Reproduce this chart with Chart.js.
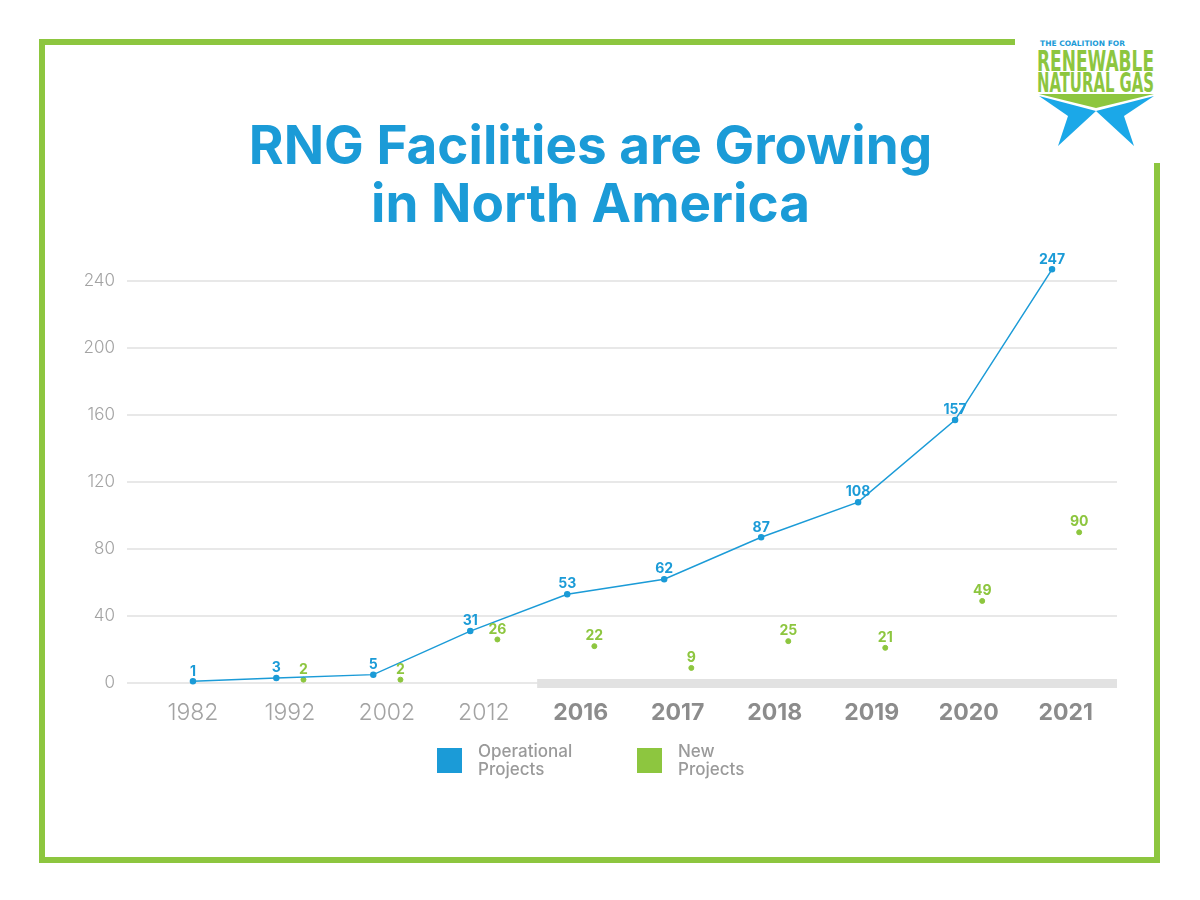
<!DOCTYPE html>
<html>
<head>
<meta charset="utf-8" />
<title>RNG Facilities are Growing in North America</title>
<script src="https://cdn.jsdelivr.net/npm/chart.js"></script>
<style>
  body { margin: 0; background: #fff; }
  #page { position: relative; width: 1200px; height: 900px; overflow: hidden; font-family: Inter, "Open Sans", sans-serif; }
  #frame { position: absolute; left: 39px; top: 39px; width: 1109px; height: 812px; border: 6px solid #8dc63f; }
  #myChart { position: absolute; left: 0; top: 0; }
  #logo { position: absolute; left: 1015px; top: 30px; }
  #legend { position: absolute; left: 437px; top: 742px; display: flex; }
  .item { display: flex; align-items: center; width: 200px; }
  .box { width: 25px; height: 25px; margin-right: 16px; }
  .txt { font-size: 17px; line-height: 18px; color: #9a9a9a; font-weight: 500; }
</style>
</head>
<body>
<div id="page">
  <div id="frame"></div>
  <canvas id="myChart" width="1200" height="900"></canvas>
  <svg id="logo" width="150" height="133" viewBox="1015 30 150 133">
    <rect x="1015" y="30" width="150" height="133" fill="#fff"/>
    <text x="1040" y="46" font-family="DejaVu Sans" font-size="7.5" font-weight="bold" fill="#1b9bd7" textLength="85" lengthAdjust="spacing">THE COALITION FOR</text>
    <text x="1037" y="71" font-family="'Liberation Sans Narrow', 'DejaVu Sans Condensed'" font-weight="bold" font-size="29" fill="#8dc63f" textLength="117" lengthAdjust="spacingAndGlyphs">RENEWABLE</text>
    <text x="1037" y="92" font-family="'Liberation Sans Narrow', 'DejaVu Sans Condensed'" font-weight="bold" font-size="26" fill="#8dc63f" textLength="117" lengthAdjust="spacingAndGlyphs">NATURAL GAS</text>
    <polygon points="1039,94 1154,94 1096,108" fill="#8dc63f"/>
    <polygon points="1039,96 1096,111 1058,146 1068,116" fill="#1ba8e8"/>
    <polygon points="1154,96 1096,111 1134,146 1124,116" fill="#1ba8e8"/>
  </svg>
  <div id="legend"></div>
</div>

<script>
  // values read from the infographic
  const years = ['1982', '1992', '2002', '2012', '2016', '2017', '2018', '2019', '2020', '2021'];
  const operational = [1, 3, 5, 31, 53, 62, 87, 108, 157, 247];
  const newProjects = [null, 2, 2, 26, 22, 9, 25, 21, 49, 90];
  const yTicks = [0, 40, 80, 120, 160, 200, 240];
  const seriesNames = ['Operational Projects', 'New Projects'];

  const BLUE = '#1b9bd7';
  const GREEN = '#8dc63f';
  const SHIFT = 0.14; // side-by-side nudge within a year

  // small number above each point
  const pointLabels = {
    id: 'pointLabels',
    afterDatasetsDraw(chart) {
      const ctx = chart.ctx;
      ctx.save();
      ctx.font = 'bold 14px Inter, "Open Sans", sans-serif';
      ctx.textAlign = 'center';
      ctx.textBaseline = 'bottom';
      chart.data.datasets.forEach((ds, i) => {
        const meta = chart.getDatasetMeta(i);
        ctx.fillStyle = ds.borderColor;
        meta.data.forEach((pt, j) => {
          ctx.fillText(ds.data[j].y, pt.x, pt.y - 3);
        });
      });
      ctx.restore();
    }
  };

  // grey band under the yearly part of the axis
  const yearlyBand = {
    id: 'yearlyBand',
    beforeDatasetsDraw(chart) {
      const x = chart.scales.x, y = chart.scales.y;
      const ctx = chart.ctx;
      const x0 = x.getPixelForValue(3.55);
      const y0 = y.getPixelForValue(0);
      ctx.save();
      ctx.fillStyle = '#e2e2e2';
      ctx.fillRect(x0, y0 - 4, chart.chartArea.right - x0, 9);
      ctx.restore();
    }
  };

  const opData = operational.map((v, i) => ({ x: i - (newProjects[i] == null ? 0 : SHIFT), y: v }));
  const newData = [];
  newProjects.forEach((v, i) => { if (v != null) newData.push({ x: i + SHIFT, y: v }); });

  const config = {
    type: 'line',
    data: {
      datasets: [{
        label: seriesNames[0],
        data: opData,
        borderColor: BLUE,
        backgroundColor: BLUE,
        borderWidth: 1.5,
        pointRadius: 2.5,
        pointHoverRadius: 2.5,
        tension: 0,
        clip: false
      }, {
        label: seriesNames[1],
        data: newData,
        borderColor: GREEN,
        backgroundColor: GREEN,
        showLine: false,
        pointRadius: 2.5,
        pointHoverRadius: 2.5,
        clip: false
      }]
    },
    options: {
      responsive: false,
      animation: false,
      events: [],
      layout: { padding: { left: 64, right: 83, top: 0, bottom: 172 } },
      plugins: {
        legend: { display: false },
        tooltip: { enabled: false },
        title: {
          display: true,
          text: ['RNG Facilities are Growing', 'in North America'],
          color: BLUE,
          font: { family: 'Inter', size: 53, weight: 'bold', lineHeight: 1.1 },
          padding: { top: 119, bottom: 12 }
        }
      },
      scales: {
        x: {
          type: 'linear',
          min: -0.68,
          max: 9.53,
          afterBuildTicks: s => { s.ticks = years.map((y, i) => ({ value: i })); },
          afterFit: s => { s.height = 45; },
          grid: { display: false },
          border: { display: false },
          ticks: {
            padding: 8,
            maxRotation: 0,
            autoSkip: false,
            callback: v => years[v],
            color: c => c.index >= 4 ? '#8c8c8c' : '#a3a3a3',
            font: c => ({ family: 'Inter', size: 23, weight: c.index >= 4 ? 'bold' : '300' })
          }
        },
        y: {
          min: 0,
          max: 260,
          afterBuildTicks: s => { s.ticks = yTicks.map(v => ({ value: v })); },
          afterFit: s => { s.width = 63; },
          grid: { color: '#e8e8e8', lineWidth: 2, drawTicks: false },
          border: { display: false },
          ticks: {
            padding: 12,
            color: '#a3a3a3',
            font: { family: 'Inter', size: 17, weight: '300' }
          }
        }
      }
    },
    plugins: [yearlyBand, pointLabels]
  };

  const myChart = new Chart(document.getElementById('myChart'), config);

  // two-line legend built from the datasets
  const legend = document.getElementById('legend');
  myChart.data.datasets.forEach(ds => {
    const item = document.createElement('div');
    item.className = 'item';
    const box = document.createElement('div');
    box.className = 'box';
    box.style.background = ds.backgroundColor;
    const txt = document.createElement('div');
    txt.className = 'txt';
    const words = ds.label.split(' ');
    [words[0], words.slice(1).join(' ')].forEach(w => {
      const line = document.createElement('div');
      line.textContent = w;
      txt.appendChild(line);
    });
    item.appendChild(box);
    item.appendChild(txt);
    legend.appendChild(item);
  });
</script>
</body>
</html>
